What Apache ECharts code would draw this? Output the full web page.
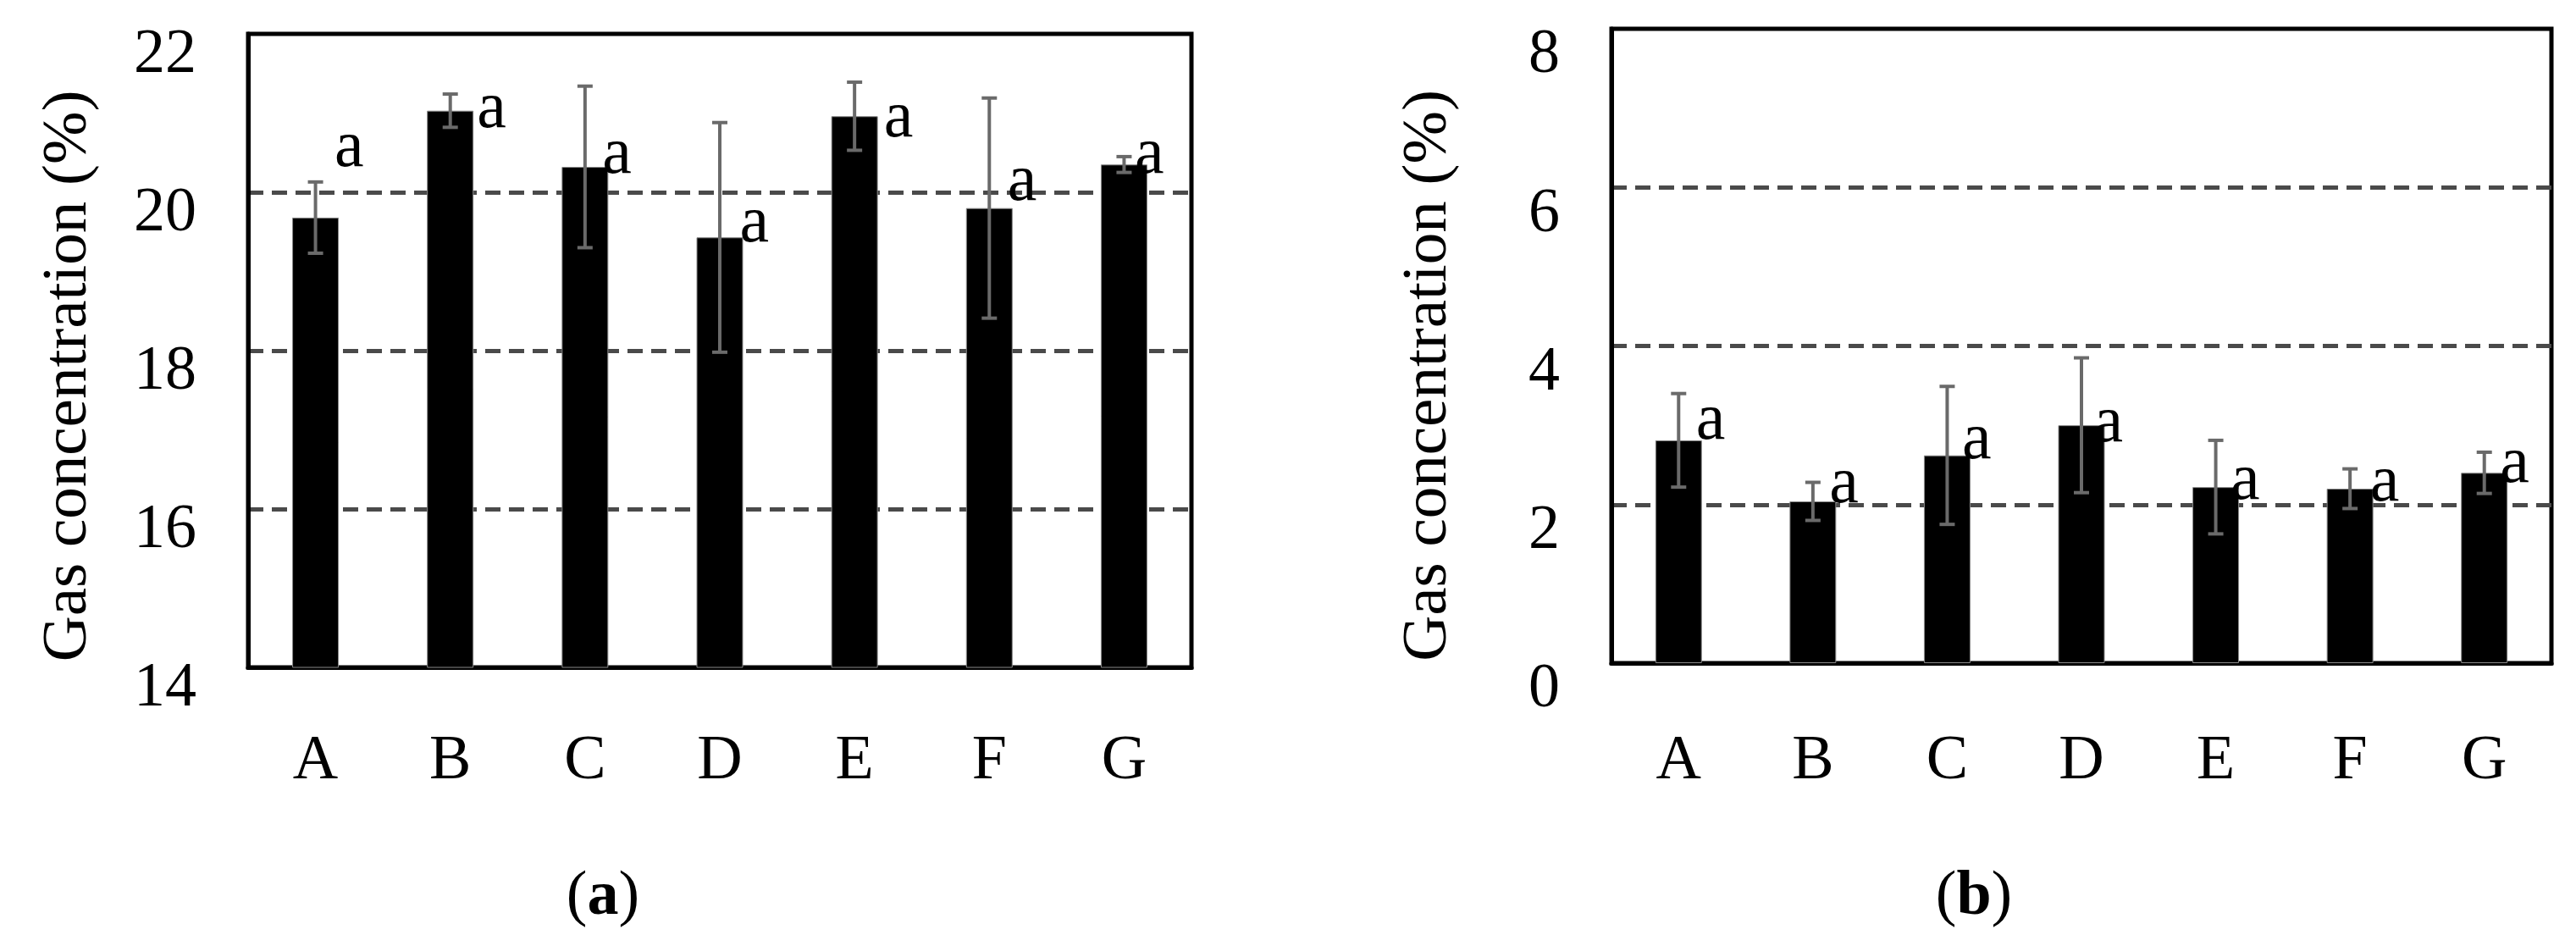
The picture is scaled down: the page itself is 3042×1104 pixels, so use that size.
<!DOCTYPE html>
<html><head><meta charset="utf-8">
<script src="https://cdn.jsdelivr.net/npm/echarts@6/dist/echarts.min.js"></script>
<style>html,body{margin:0;padding:0;background:#fff}#c{width:3042px;height:1104px}</style>
</head><body><div id="c"></div>
<script>
// ---- data ----
const categories = ['A', 'B', 'C', 'D', 'E', 'F', 'G'];
const meansA  = [19.68, 21.03, 20.32, 19.43, 20.96, 19.80, 20.35];
const errorsA = [0.45, 0.21, 1.02, 1.45, 0.43, 1.39, 0.10];
const lettersA = ['a', 'a', 'a', 'a', 'a', 'a', 'a'];
const meansB  = [2.81, 2.04, 2.62, 3.00, 2.22, 2.20, 2.40];
const errorsB = [0.59, 0.24, 0.87, 0.85, 0.59, 0.25, 0.26];
const lettersB = ['a', 'a', 'a', 'a', 'a', 'a', 'a'];
const yMinA = 14, yMaxA = 22, yStepA = 2;
const yMinB = 0, yMaxB = 8, yStepB = 2;
const yTitle = 'Gas concentration (%)';
const captionLetters = ['a', 'b'];

// ---- cosmetic label nudges (px), not data ----
const nudgeA = [[-5,-42],[4,38],[-7,25],[-4,23],[7,42],[-6,9],[-15,28]];
const nudgeB = [[-7,17],[-8,20],[-10,22],[-13,37],[-10,32],[-4,32],[-9,29]];

const FF = "'Liberation Serif', 'Times New Roman', serif";
const FS = 74;

function xAxis(idx, margin) {
  return {
    type: 'category', gridIndex: idx, data: categories,
    axisTick: { show: false },
    axisLine: { show: true, lineStyle: { color: '#000', width: 5 } },
    axisLabel: { fontSize: FS, fontFamily: FF, color: '#000', margin: margin }
  };
}
function yAxis(idx, min, max, step, shift, gap, namePad) {
  return {
    type: 'value', gridIndex: idx, min: min, max: max, interval: step,
    axisLine: { show: true, lineStyle: { color: '#000', width: 5 } },
    axisTick: { show: false },
    axisLabel: { fontSize: FS, fontFamily: FF, color: '#000', margin: 61,
      verticalAlign: 'top', lineHeight: 2 * shift },
    splitLine: { show: true, showMinLine: false, showMaxLine: false,
      lineStyle: { color: '#4a4a4a', width: 5, type: [18, 10] } },
    name: yTitle, nameLocation: 'middle', nameRotate: 90, nameGap: gap,
    nameTextStyle: { fontSize: 75, fontFamily: FF, color: '#000', padding: [0, namePad, 0, 0] }
  };
}
function barSeries(idx, means, letters, nudge) {
  return {
    type: 'bar', xAxisIndex: idx, yAxisIndex: idx, barWidth: 55, z: 2,
    itemStyle: { color: '#000', borderColor: '#8a8a8a', borderWidth: 1 },
    data: means.map((v, i) => ({ value: v, label: { offset: nudge[i] } })),
    label: { show: true, position: ['100%', 0], align: 'left', verticalAlign: 'bottom',
      formatter: p => letters[p.dataIndex], fontSize: 78, fontFamily: FF, color: '#000' }
  };
}
function errSeries(idx, means, errs) {
  return {
    type: 'custom', xAxisIndex: idx, yAxisIndex: idx, z: 5,
    data: means.map((m, i) => [i, m - errs[i], m + errs[i]]),
    encode: { x: 0, y: [1, 2] },
    renderItem: function (params, api) {
      const x = api.value(0);
      const lo = api.coord([x, api.value(1)]);
      const hi = api.coord([x, api.value(2)]);
      const hw = 9;
      const style = { stroke: '#6a6a6a', lineWidth: 4 };
      return { type: 'group', children: [
        { type: 'line', shape: { x1: lo[0], y1: lo[1], x2: hi[0], y2: hi[1] }, style: style },
        { type: 'line', shape: { x1: hi[0] - hw, y1: hi[1], x2: hi[0] + hw, y2: hi[1] }, style: style },
        { type: 'line', shape: { x1: lo[0] - hw, y1: lo[1], x2: lo[0] + hw, y2: lo[1] }, style: style }
      ]};
    }
  };
}
function caption(letter, x) {
  return {
    text: '({b|' + letter + '})', left: x, top: 1018, textAlign: 'center',
    textStyle: { fontSize: FS, fontFamily: FF, color: '#000', fontWeight: 'normal',
      rich: { b: { fontSize: FS, fontFamily: FF, color: '#000', fontWeight: 'bold' } } }
  };
}

const chart = echarts.init(document.getElementById('c'), null, { renderer: 'canvas' });
chart.setOption({
  animation: false,
  backgroundColor: '#fff',
  title: [caption(captionLetters[0], 707), caption(captionLetters[1], 2326)],
  grid: [
    { left: 293, top: 40, width: 1114, height: 748, show: true, borderColor: '#000', borderWidth: 5 },
    { left: 1903, top: 34, width: 1110, height: 749, show: true, borderColor: '#000', borderWidth: 5 }
  ],
  xAxis: [xAxis(0, 75), xAxis(1, 80)],
  yAxis: [
    yAxis(0, yMinA, yMaxA, yStepA, 26, 174, 60),
    yAxis(1, yMinB, yMaxB, yStepB, 32, 178, 70)
  ],
  series: [
    barSeries(0, meansA, lettersA, nudgeA),
    errSeries(0, meansA, errorsA),
    barSeries(1, meansB, lettersB, nudgeB),
    errSeries(1, meansB, errorsB)
  ]
});
</script></body></html>
